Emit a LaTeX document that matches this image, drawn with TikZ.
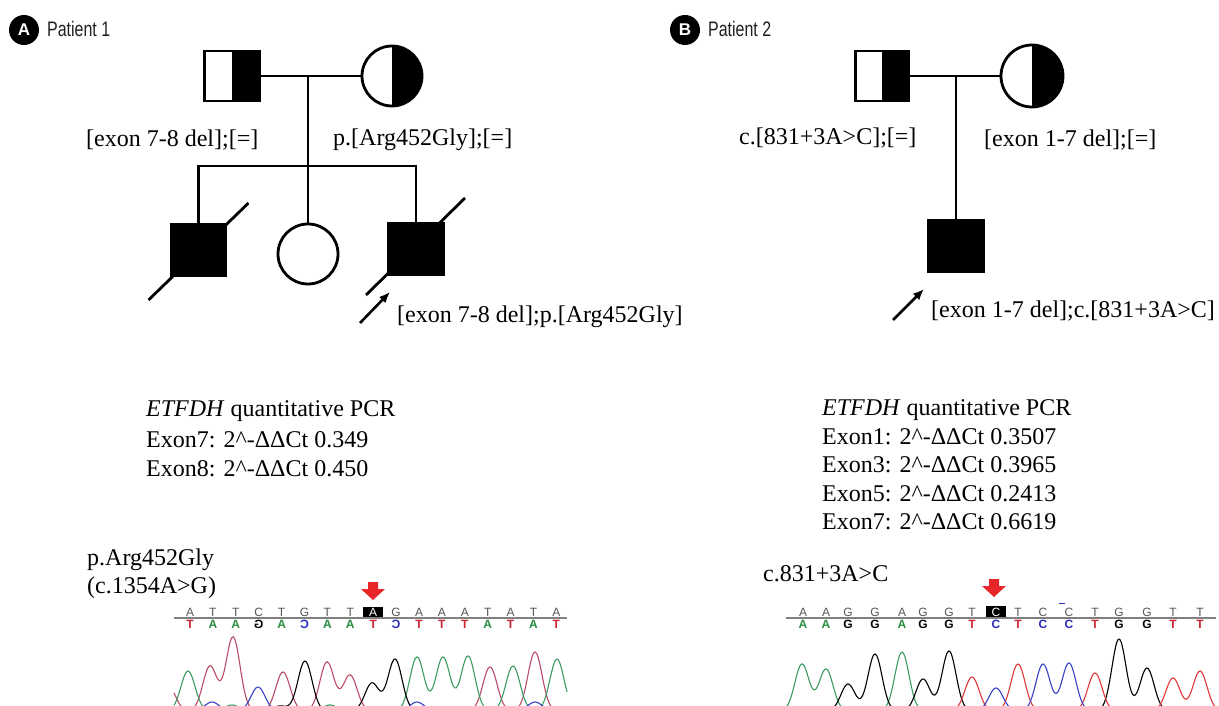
\documentclass[tikz,border=0pt]{standalone}
\usepackage{fontspec}
\setmainfont{Liberation Serif}
\newfontfamily\hdfont{Liberation Sans}
\usetikzlibrary{arrows.meta,calc}
\definecolor{tgray}{RGB}{85,85,85}
\definecolor{hdgray}{RGB}{35,31,32}
\definecolor{arrred}{RGB}{232,38,42}
\definecolor{lred}{RGB}{205,35,50}
\definecolor{lgreen}{RGB}{40,140,65}
\definecolor{lblue}{RGB}{40,45,185}
\definecolor{trgreen}{RGB}{60,155,95}
\definecolor{trredA}{RGB}{185,75,100}
\definecolor{trredB}{RGB}{225,55,55}
\definecolor{trblue}{RGB}{55,65,195}
\pgfmathdeclarefunction{pk}{3}{%
  \begingroup
  \pgfmathparse{#3*exp(-min(((#1-#2)/10)^2,9))}%
  \pgfmathsmuggle\pgfmathresult
  \endgroup}
\begin{document}
\begin{tikzpicture}[x=1pt,y=-1pt,
  ped/.style={line width=2.8pt},
  halfsq/.style={draw, line width=2.8pt, rectangle, inner sep=0pt,
    path picture={\fill (path picture bounding box.north) rectangle (path picture bounding box.south east);}},
  halfci/.style={draw, line width=2.8pt, circle, inner sep=0pt,
    path picture={\fill (path picture bounding box.north) rectangle (path picture bounding box.south east);}},
  fullsq/.style={draw, fill=black, line width=2.8pt, rectangle, inner sep=0pt},
  emptyci/.style={draw, line width=2.8pt, circle, inner sep=0pt},
  parrow/.style={line width=2.6pt, -{Latex[length=11pt,width=9pt]}},
  lbl/.style={font=\fontsize{24}{28}\selectfont, inner sep=0pt},
  badge/.style={circle, fill=black, minimum size=30pt, inner sep=0pt, text=white,
    font=\hdfont\bfseries\fontsize{17}{17}\selectfont},
  hdr/.style={font=\hdfont\fontsize{21}{21}\selectfont, text=hdgray, inner sep=0pt, anchor=base west},
  seqtop/.style={font=\hdfont\fontsize{12}{12}\selectfont, inner sep=0pt},
  seqbot/.style={font=\hdfont\bfseries\fontsize{12}{12}\selectfont, inner sep=0pt},
  trace/.style={line width=1.1pt}
]
\useasboundingbox (0,0) rectangle (1219,706);
\clip (0,0) rectangle (1219,706);

% ---------------- headers
\node[badge] (badgeA) at (24,30) {A};
\node[hdr] (hA) at (47,37) {\scalebox{0.76}[1]{Patient 1}};
\node[badge] (badgeB) at (685,30) {B};
\node[hdr] (hB) at (708,37) {\scalebox{0.76}[1]{Patient 2}};

% ---------------- pedigree A
\node[halfsq, minimum width=55pt, minimum height=50pt] (fA) at (232,76) {};
\node[halfci, minimum size=60pt] (mA) at (392,76) {};
\coordinate (dA) at (308,76);
\coordinate (sibA) at (308,166);
\node[fullsq, minimum width=54pt, minimum height=51pt] (c1A) at (198.5,250) {};
\node[emptyci, minimum size=60pt] (d2A) at (308,254) {};
\node[fullsq, minimum width=55pt, minimum height=51pt] (c3A) at (416,249) {};
\draw[ped] (fA.east) -- (mA.west);
\draw[ped] (dA) -- (d2A.north);
\draw[ped] (c1A.north) |- (sibA) -| (c3A.north);
\draw[ped] ($(c1A.center)+(-50,50)$) -- ($(c1A.center)+(50,-47)$);
\draw[ped] ($(c3A.center)+(-50,46)$) -- ($(c3A.center)+(49,-51)$);
\coordinate (aA0) at (360,323);
\coordinate (aA1) at (390,292);
\draw[parrow] (aA0) -- (aA1);
\node[lbl, anchor=west] (lfA) at (86,140) {[exon 7-8 del];[=]};
\node[lbl, anchor=west] (lmA) at (333,140) {p.[Arg452Gly];[=]};
\node[lbl, anchor=west] (lpA) at (397,317) {[exon 7-8 del];p.[Arg452Gly]};

% ---------------- pedigree B
\node[halfsq, minimum width=53pt, minimum height=50pt] (fB) at (882,76) {};
\node[halfci, minimum size=62pt] (mB) at (1032,76) {};
\coordinate (dB) at (956,76);
\node[fullsq, minimum width=56pt, minimum height=51pt] (sB) at (956,246) {};
\draw[ped] (fB.east) -- (mB.west);
\draw[ped] (dB) -- (sB.north);
\coordinate (aB0) at (893,320);
\coordinate (aB1) at (924,289);
\draw[parrow] (aB0) -- (aB1);
\node[lbl, anchor=west] (lfB) at (739,138) {c.[831+3A>C];[=]};
\node[lbl, anchor=west] (lmB) at (984,140) {[exon 1-7 del];[=]};
\node[lbl, anchor=west] (lpB) at (931,311) {[exon 1-7 del];c.[831+3A>C]};

% ---------------- PCR text
\node[lbl, anchor=base west] (qA1) at (146,416) {\textit{ETFDH} quantitative PCR};
\node[lbl, anchor=base west] (qA2) at (146,447) {Exon7: 2\textasciicircum-ΔΔCt 0.349};
\node[lbl, anchor=base west] (qA3) at (146,476) {Exon8: 2\textasciicircum-ΔΔCt 0.450};

\node[lbl, anchor=base west] (qB1) at (822,415) {\textit{ETFDH} quantitative PCR};
\node[lbl, anchor=base west] (qB2) at (822,444) {Exon1: 2\textasciicircum-ΔΔCt 0.3507};
\node[lbl, anchor=base west] (qB3) at (822,472.5) {Exon3: 2\textasciicircum-ΔΔCt 0.3965};
\node[lbl, anchor=base west] (qB4) at (822,501) {Exon5: 2\textasciicircum-ΔΔCt 0.2413};
\node[lbl, anchor=base west] (qB5) at (822,529) {Exon7: 2\textasciicircum-ΔΔCt 0.6619};

\node[lbl, anchor=base west] (vA1) at (87,565) {p.Arg452Gly};
\node[lbl, anchor=base west] (vA2) at (87,593) {(c.1354A>G)};
\node[lbl, anchor=base west] (vB1) at (763,581) {c.831+3A>C};

% ---------------- red arrows
\fill[arrred] (368,582) -- (378,582) -- (378,589) -- (385,589) -- (373,600) -- (361,589) -- (368,589) -- cycle;
\fill[arrred] (989,579) -- (999,579) -- (999,586) -- (1006,586) -- (994,597) -- (982,586) -- (989,586) -- cycle;

% ---------------- sequence A
\node[fill=black, minimum width=20pt, minimum height=11pt, inner sep=0pt] (hlA) at (373,612.5) {};
\draw[gray, line width=1.5pt] (174,618) -- (567,618);
\foreach \t/\b/\c/\k [count=\i from 0] in {
  A/T/lred/tgray, T/A/lgreen/tgray, T/A/lgreen/tgray, C/{\reflectbox{G}}/black/tgray,
  T/A/lgreen/tgray, G/{\reflectbox{C}}/lblue/tgray, T/A/lgreen/tgray, T/A/lgreen/tgray,
  A/T/lred/white, G/{\reflectbox{C}}/lblue/tgray, A/T/lred/tgray, A/T/lred/tgray,
  A/T/lred/tgray, T/A/lgreen/tgray, A/T/lred/tgray, T/A/lgreen/tgray, A/T/lred/tgray}{
  \node[seqtop, text=\k] (tA\i) at ({190+22.9*\i},612.5) {\t};
  \node[seqbot, text=\c] (uA\i) at ({190+22.9*\i},624.5) {\b};
}
% traces A
\draw[trace, trredA] plot[domain=174:567, samples=260, smooth] (\x, {711 - pk(\x,168,26) - pk(\x,210,45) - pk(\x,233,74) - pk(\x,283,39) - pk(\x,327,49) - pk(\x,350,36) - pk(\x,490,44) - pk(\x,535,59)});
\draw[trace, trgreen] plot[domain=174:567, samples=260, smooth] (\x, {711 - pk(\x,188,40) - pk(\x,417,54) - pk(\x,443,54) - pk(\x,468,55) - pk(\x,513,45) - pk(\x,557,52) - pk(\x,232,6) - pk(\x,330,6)});
\draw[trace, black] plot[domain=174:567, samples=260, smooth] (\x, {711 - pk(\x,305,50) - pk(\x,372,28) - pk(\x,395,52) - pk(\x,280,5)});
\draw[trace, trblue] plot[domain=174:567, samples=260, smooth] (\x, {711 - pk(\x,258,24) - pk(\x,212,9) - pk(\x,417,9) - pk(\x,535,9)});

% ---------------- sequence B
\node[fill=black, minimum width=20pt, minimum height=12pt, inner sep=0pt] (hlB) at (996,612) {};
\draw[gray, line width=1.5pt] (786,618) -- (1216,618);
\foreach \x/\t/\c/\k [count=\i] in {
  803/A/lgreen/tgray, 826/A/lgreen/tgray, 848/G/black/tgray, 875/G/black/tgray,
  902/A/lgreen/tgray, 923/G/black/tgray, 949/G/black/tgray, 972/T/lred/tgray,
  996/C/lblue/white, 1018/T/lred/tgray, 1043/C/lblue/tgray, 1069/C/lblue/tgray,
  1095/T/lred/tgray, 1119/G/black/tgray, 1147/G/black/tgray, 1173/T/lred/tgray, 1200/T/lred/tgray}{
  \node[seqtop, text=\k] (tB\i) at (\x,612) {\t};
  \node[seqbot, text=\c] (uB\i) at (\x,624.5) {\t};
}
\draw[lblue, line width=1pt] (1059,603.5) -- (1065,603.5);
% traces B
\draw[trace, trgreen] plot[domain=786:1216, samples=300, smooth] (\x, {711 - pk(\x,802,47) - pk(\x,826,42) - pk(\x,902,59)});
\draw[trace, black] plot[domain=786:1216, samples=300, smooth] (\x, {711 - pk(\x,848,27) - pk(\x,875,57) - pk(\x,923,32) - pk(\x,949,60) - pk(\x,1119,72) - pk(\x,1147,43)});
\draw[trace, trredB] plot[domain=786:1216, samples=300, smooth] (\x, {711 - pk(\x,972,34) - pk(\x,1018,47) - pk(\x,1095,38) - pk(\x,1173,33) - pk(\x,1200,40)});
\draw[trace, trblue] plot[domain=786:1216, samples=300, smooth] (\x, {711 - pk(\x,996,23) - pk(\x,1043,47) - pk(\x,1069,48)});
\end{tikzpicture}
\end{document}
